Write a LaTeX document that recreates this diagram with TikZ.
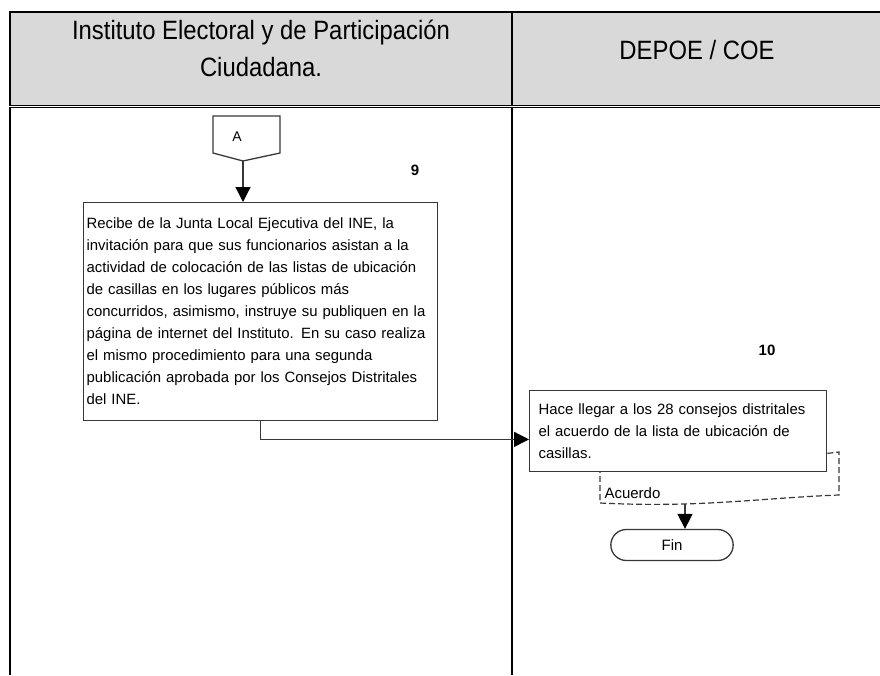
\documentclass[tikz,border=0pt]{standalone}
\usepackage{fontspec}
\setmainfont{Liberation Sans}
\newfontfamily\headfont[FakeStretch=0.9]{Liberation Sans}
\usetikzlibrary{positioning, arrows.meta, shapes, calc}
\definecolor{headgray}{RGB}{217, 217, 217}
\definecolor{linegray}{RGB}{55, 55, 55}

\tikzset{
    actbox/.style={rectangle, draw=linegray, line width=1.3pt, align=left, inner sep=4pt, anchor=north west,
        font=\fontsize{14.9}{22}\selectfont},
    steplbl/.style={font=\bfseries\fontsize{15}{17}\selectfont},
    smalltxt/.style={font=\fontsize{15}{17}\selectfont},
    flow/.style={draw=linegray, line width=1.3pt, -{Triangle[length=15pt, width=15pt, color=black]}},
    headtxt/.style={align=center, anchor=base, font=\headfont\fontsize{26.5}{37}\selectfont},
}

\begin{document}
\begin{tikzpicture}[x=1pt, y=-1pt]
    \useasboundingbox (0,0) rectangle (880,675);

    % Header of the swimlanes
    \draw[fill=headgray, line width=1.8pt] (10,12) rectangle (892,105.5);
    \draw[line width=1.8pt] (512,12) -- (512,105.5);
    \node[headtxt] (laneA) at (261,76) {Instituto Electoral y de Participación\\Ciudadana.};
    \node[headtxt] (laneB) at (697,59) {DEPOE / COE};

    % Lanes
    \draw[line width=1.8pt] (10,107.5) -- (892,107.5);
    \draw[line width=1.3pt] (10,107) -- (10,675);
    \draw[line width=1.3pt] (512,107) -- (512,675);

    % Off-page connector
    \draw[linegray, line width=1.3pt] (213,116) -- (280,116) -- (280,153) -- (243,161) -- (213,153) -- cycle;
    \node[font=\fontsize{14}{16}\selectfont] (conA) at (237,137) {A};
    \coordinate (conAtip) at (243,161);

    % Step 9
    \node[steplbl] (num9) at (415,170) {9};
    \node[actbox, inner xsep=3pt, text width=348pt, minimum height=218pt] (step9) at (83,202)
        {Recibe de la Junta Local Ejecutiva del INE, la\\
         invitación para que sus funcionarios asistan a la\\
         actividad de colocación de las listas de ubicación\\
         de casillas en los lugares públicos más\\
         concurridos, asimismo, instruye su publiquen en la\\
         página de internet del Instituto. En su caso realiza\\
         el mismo procedimiento para una segunda\\
         publicación aprobada por los Consejos Distritales\\
         del INE.};
    \draw[flow] (conAtip) -- (conAtip |- step9.north);

    % Step 10
    \node[steplbl] (num10) at (767,350) {10};
    \node[actbox, inner xsep=9pt, text width=279pt, minimum height=81pt] (step10) at (529,390)
        {Hace llegar a los 28 consejos distritales\\
         el acuerdo de la lista de ubicación de\\
         casillas.};
    \draw[flow] (step9.south) |- ($(step10.south west)!0.4!(step10.north west)$);

    % Document
    \coordinate (docR) at ($(step10.south east)!0.23!(step10.north east)$);
    \draw[linegray, line width=1.2pt, dash pattern=on 6pt off 3pt] (docR) -- (839,452) -- (839,495)
        .. controls (760,498) and (700,508) .. (600,503) -- (600,471);
    \node[smalltxt, anchor=west] (docLbl) at (601,493) {Acuerdo};
    \coordinate (docbot) at (685,504);

    % End
    \node[rounded rectangle, draw=linegray, line width=1.3pt, minimum width=129pt, minimum height=31pt,
        smalltxt] (fin) at (672,545) {Fin};
    \draw[flow] (docbot) -- (docbot |- fin.north);
\end{tikzpicture}
\end{document}
